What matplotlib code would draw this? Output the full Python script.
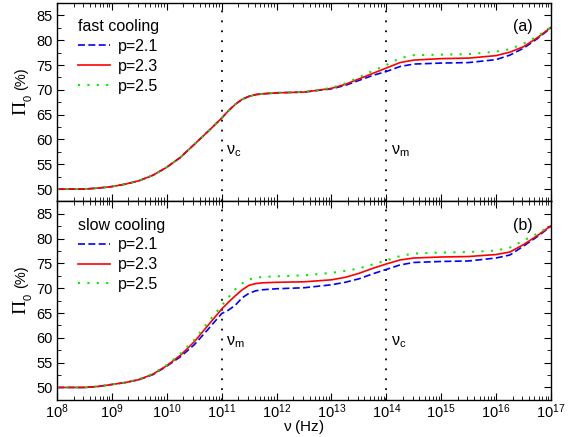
import numpy as np
import matplotlib
matplotlib.use('Agg')
import matplotlib.pyplot as plt
from matplotlib.ticker import LogLocator, MultipleLocator, NullFormatter

plt.rcParams.update({
    'font.family': ['Liberation Sans', 'DejaVu Sans'],
    'font.size': 10,
    'mathtext.fontset': 'custom',
    'mathtext.rm': 'Liberation Serif',
    'mathtext.it': 'Liberation Serif:italic',
    'mathtext.sf': 'Liberation Sans',
    'axes.linewidth': 1.0,
    'xtick.direction': 'in',
    'ytick.direction': 'in',
    'xtick.top': True,
    'ytick.right': True,
    'xtick.major.size': 5,
    'ytick.major.size': 5,
    'xtick.minor.size': 3,
    'ytick.minor.size': 3,
})

# ---- data ----
log_nu = [8, 8.5, 8.75, 9, 9.25, 9.5, 9.75, 10, 10.25, 10.5, 10.75, 11, 11.125, 11.25, 11.375,
          11.5, 11.625, 11.75, 12, 12.5, 13, 13.25, 13.5, 13.75, 14, 14.25, 14.5, 15, 15.5,
          16, 16.25, 16.5, 16.75, 17]

fast_p21 = [50.0, 50.0, 50.2, 50.5, 51.0, 51.7, 52.8, 54.4, 56.4, 59.0, 61.6, 64.3, 65.8, 67.1, 68.1,
            68.7, 69.05, 69.2, 69.4, 69.55, 70.2, 70.9, 71.9, 72.9, 73.7, 74.7, 75.2, 75.4, 75.5,
            76.1, 77.0, 78.4, 80.3, 82.5]
fast_p23 = [50.0, 50.0, 50.2, 50.5, 51.0, 51.7, 52.8, 54.4, 56.4, 59.0, 61.6, 64.3, 65.8, 67.1, 68.1,
            68.7, 69.05, 69.2, 69.4, 69.55, 70.3, 71.1, 72.2, 73.3, 74.4, 75.5, 76.0, 76.3, 76.4,
            76.9, 77.6, 78.7, 80.5, 82.6]
fast_p25 = [50.0, 50.0, 50.2, 50.5, 51.0, 51.7, 52.8, 54.4, 56.4, 59.0, 61.6, 64.3, 65.8, 67.1, 68.1,
            68.7, 69.05, 69.2, 69.4, 69.6, 70.4, 71.3, 72.5, 73.8, 75.0, 76.4, 77.0, 77.1, 77.2,
            77.7, 78.2, 79.3, 80.8, 82.6]

slow_p21 = [50.0, 50.0, 50.2, 50.6, 51.0, 51.6, 52.6, 54.3, 56.2, 58.6, 61.7, 64.9, 65.6, 66.6, 68.1,
            69.0, 69.5, 69.7, 69.9, 70.1, 70.7, 71.2, 71.9, 72.9, 73.8, 74.7, 75.2, 75.4, 75.5,
            76.1, 76.7, 78.5, 80.4, 82.5]
slow_p23 = [50.0, 50.0, 50.2, 50.6, 51.0, 51.6, 52.7, 54.4, 56.5, 59.2, 62.5, 65.8, 67.2, 68.5, 69.7,
            70.6, 70.95, 71.1, 71.2, 71.3, 71.7, 72.2, 73.0, 74.0, 74.9, 75.7, 76.1, 76.3, 76.4,
            76.8, 77.3, 78.8, 80.6, 82.6]
slow_p25 = [50.0, 50.0, 50.2, 50.6, 51.0, 51.7, 52.8, 54.5, 56.8, 59.6, 63.1, 66.5, 68.2, 69.8, 71.0,
            71.8, 72.1, 72.3, 72.4, 72.6, 73.1, 73.5, 74.0, 74.8, 75.6, 76.5, 77.0, 77.2, 77.3,
            77.6, 78.2, 79.6, 81.0, 82.6]

nu = 10.0 ** np.array(log_nu)

panels = [
    {'title': 'fast cooling', 'tag': '(a)', 'series': [fast_p21, fast_p23, fast_p25],
     'marks': [(1e11, 'c'), (1e14, 'm')], 'mark_y': 57.6},
    {'title': 'slow cooling', 'tag': '(b)', 'series': [slow_p21, slow_p23, slow_p25],
     'marks': [(1e11, 'm'), (1e14, 'c')], 'mark_y': 59.2},
]
labels = ['p=2.1', 'p=2.3', 'p=2.5']
styles = [
    dict(color='#0000ff', linestyle=(0, (4.2, 2.0)), linewidth=1.2),
    dict(color='#ff0000', linestyle='-', linewidth=1.2),
    dict(color='#00ee00', linestyle=(0, (1, 3.5)), linewidth=1.5),
]

fig, axes = plt.subplots(2, 1, figsize=(5.68, 4.37), dpi=100, sharex=True)
fig.subplots_adjust(left=0.1004, right=0.970, top=0.993, bottom=0.085, hspace=0)

for ax, pan in zip(axes, panels):
    for vx, _ in pan['marks']:
        ax.axvline(vx, color='black', linestyle=(0, (1, 4.5)), linewidth=1.3, zorder=1)
    for y, lab, st in zip(pan['series'], labels, styles):
        ax.plot(nu, y, label=lab, zorder=2, **st)
    for vx, sub in pan['marks']:
        ax.text(vx * 1.2, pan['mark_y'], r'$\mathregular{\nu_%s}$' % sub, fontsize=11.5,
                ha='left', va='center')

    ax.set_xscale('log')
    ax.set_xlim(1e8, 1e17)
    ax.set_ylim(47.5, 87.5)
    ax.yaxis.set_major_locator(MultipleLocator(5))
    ax.yaxis.set_minor_locator(MultipleLocator(2.5))
    ax.xaxis.set_major_locator(LogLocator(base=10, numticks=20))
    ax.xaxis.set_minor_locator(LogLocator(base=10, subs=np.arange(2, 10), numticks=20))
    ax.xaxis.set_minor_formatter(NullFormatter())
    ax.tick_params(axis='both', which='both', labelsize=10.5, pad=3)
    ax.tick_params(axis='x', which='both', pad=2)

    # y label built from pieces: large serif Pi, small subscript, "(%)"
    ax.text(-0.073, 0.47, 'Π', transform=ax.transAxes, rotation=90, fontsize=14,
            family='Liberation Serif', ha='center', va='center')
    ax.text(-0.058, 0.52, '0', transform=ax.transAxes, rotation=90, fontsize=8,
            ha='center', va='center')
    ax.text(-0.073, 0.62, '(%)', transform=ax.transAxes, rotation=90, fontsize=10.5,
            ha='center', va='center')

    leg = ax.legend(loc='upper left', bbox_to_anchor=(0.036, 0.935), frameon=False,
                    title=pan['title'], fontsize=11.5, title_fontsize=11.5,
                    handlelength=2.0, handletextpad=0.5, labelspacing=0.3,
                    borderaxespad=0, borderpad=0.2)
    leg._legend_box.align = 'left'
    ax.text(0.962, 0.88, pan['tag'], transform=ax.transAxes, fontsize=11.5,
            ha='right', va='center')

axes[1].set_xlabel(r'$\mathregular{\nu}$ (Hz)', fontsize=11, labelpad=-2.5)

fig.savefig('out.png', dpi=100)
